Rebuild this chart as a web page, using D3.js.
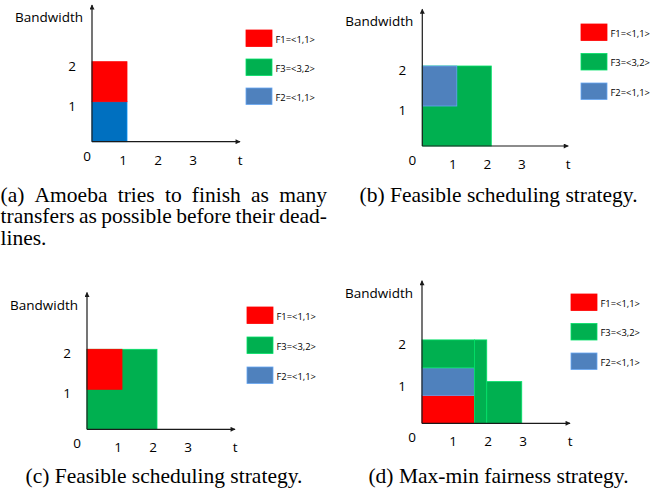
<!DOCTYPE html>
<html>
<head>
<meta charset="utf-8">
<script src="https://cdn.jsdelivr.net/npm/d3@7/dist/d3.min.js"></script>
<style>
    body { margin: 0; background: #fff; }
    svg { display: block; }
    .tick-label, .axis-title { font-family: 'Open Sans', sans-serif; font-size: 13.5px; fill: #000; }
    .legend-label { font-family: 'Open Sans', sans-serif; font-size: 9.4px; fill: #000; }
    .caption { font-family: 'Liberation Serif', 'Times New Roman', serif; font-size: 21.5px; fill: #000; }
    .axis-line { stroke: #1a1a1a; stroke-width: 1.2px; fill: none; }
</style>
</head>
<body>
<div id="chart"></div>
<script>
// flows, in legend order
const flowNames = ["F1", "F3", "F2"];
const flowLabels = ["F1=<1,1>", "F3=<3,2>", "F2=<1,1>"];
const flowColors = ["#FF0000", "#00B050", "#4F81BD"];

const timeTicks = [0, 1, 2, 3];
const bandwidthTicks = [1, 2];

// [flow, t start, t end, bandwidth bottom, bandwidth top]
const scheduleA = [["F2", 0, 1, 0, 1], ["F1", 0, 1, 1, 2]];
const scheduleB = [["F3", 0, 2, 0, 2], ["F2", 0, 1, 1, 2]];
const scheduleC = [["F3", 0, 2, 0, 2], ["F1", 0, 1, 1, 2]];
const scheduleD = [["F1", 0, 1.5, 0, 0.67], ["F2", 0, 1.5, 0.67, 1.33], ["F3", 0, 1.5, 1.33, 2],
                   ["F3", 1.5, 1.85, 0, 2], ["F3", 1.85, 2.85, 0, 1]];

const captionA = ["(a) Amoeba tries to finish as many", "transfers as possible before their dead-", "lines."];
const captionB = ["(b) Feasible scheduling strategy."];
const captionC = ["(c) Feasible scheduling strategy."];
const captionD = ["(d) Max-min fairness strategy."];

let width = 670, height = 494;

let svg = d3.select("#chart").append("svg")
    .attr("width", width)
    .attr("height", height);

svg.append("defs").append("marker")
    .attr("id", "arrow")
    .attr("viewBox", "0 0 10 10")
    .attr("refX", 9)
    .attr("refY", 5)
    .attr("markerUnits", "userSpaceOnUse")
    .attr("markerWidth", 6)
    .attr("markerHeight", 5)
    .attr("orient", "auto")
    .append("path")
    .attr("d", "M0,0L10,5L0,10z")
    .attr("fill", "#1a1a1a");

let color = d3.scaleOrdinal().domain(flowNames).range(flowColors);

// layout of each panel: axis corner, units, legend box, caption
let panels = [
    {id: "a", schedule: scheduleA, caption: captionA, ox: 92, oy: 141.7, ux: 35, uy: 40, zeroDx: -5,
        legendX: 246, legendY: 30, legendStep: 29, capLeft: 0.5, capRight: 327, capY: 201.5},
    {id: "b", schedule: scheduleB, caption: captionB, ox: 422.3, oy: 146, ux: 34.5, uy: 40, zeroDx: -10,
        legendX: 581, legendY: 24, legendStep: 29.5, capCenter: 498.5, capY: 201.5},
    {id: "c", schedule: scheduleC, caption: captionC, ox: 87, oy: 429.3, ux: 35, uy: 40, zeroDx: -10,
        legendX: 247, legendY: 307, legendStep: 30, capCenter: 164, capY: 483},
    {id: "d", schedule: scheduleD, caption: captionD, ox: 422, oy: 423.3, ux: 35, uy: 41.7, zeroDx: -10,
        legendX: 571, legendY: 294, legendStep: 29.5, capCenter: 498.5, capY: 483}
];

let tMax = 4.23, bMax = 3.42;

// panel (a) draws F2 in a darker blue
function fillFor(panel, flow) {
    if (panel.id === "a" && flow === "F2") return "#0070C0";
    return color(flow);
}

function edgeFor(fill) {
    return d3.color(fill).brighter(0.7).formatHex();
}

panels.forEach(function(p) {
    let x = d3.scaleLinear().domain([0, tMax]).range([p.ox, p.ox + tMax * p.ux]);
    let y = d3.scaleLinear().domain([0, bMax]).range([p.oy, p.oy - bMax * p.uy]);

    let g = svg.append("g").attr("class", "panel-" + p.id);

    g.selectAll("rect.bar")
        .data(p.schedule)
        .enter()
        .append("rect")
        .attr("class", "bar")
        .attr("x", function(d) { return x(d[1]); })
        .attr("y", function(d) { return y(d[4]); })
        .attr("width", function(d) { return x(d[2]) - x(d[1]); })
        .attr("height", function(d) { return y(d[3]) - y(d[4]); })
        .style("fill", function(d) { return fillFor(p, d[0]); })
        .style("stroke", function(d) { return edgeFor(fillFor(p, d[0])); })
        .style("stroke-width", "0.8px");

    // axes with arrow heads
    g.append("line")
        .attr("class", "axis-line")
        .attr("x1", x(0)).attr("y1", y(0))
        .attr("x2", x(0)).attr("y2", y(bMax))
        .attr("marker-end", "url(#arrow)");
    g.append("line")
        .attr("class", "axis-line")
        .attr("x1", x(0)).attr("y1", y(0))
        .attr("x2", x(tMax)).attr("y2", y(0))
        .attr("marker-end", "url(#arrow)");

    g.selectAll("text.ttick")
        .data(timeTicks)
        .enter()
        .append("text")
        .attr("class", "tick-label ttick")
        .attr("text-anchor", "middle")
        .attr("dominant-baseline", "central")
        .attr("x", function(d) { return d === 0 ? x(0) + p.zeroDx : x(d) - 4; })
        .attr("y", function(d) { return y(0) + (d === 0 ? 14 : 18); })
        .text(function(d) { return d; });

    g.append("text")
        .attr("class", "tick-label")
        .attr("text-anchor", "middle")
        .attr("dominant-baseline", "central")
        .attr("x", x(tMax))
        .attr("y", y(0) + 18)
        .text("t");

    g.selectAll("text.btick")
        .data(bandwidthTicks)
        .enter()
        .append("text")
        .attr("class", "tick-label btick")
        .attr("text-anchor", "middle")
        .attr("dominant-baseline", "central")
        .attr("x", x(0) - 20)
        .attr("y", function(d) { return y(d) + 4; })
        .text(function(d) { return d; });

    g.append("text")
        .attr("class", "axis-title")
        .attr("text-anchor", "end")
        .attr("dominant-baseline", "central")
        .attr("x", x(0) - 9)
        .attr("y", y(bMax) + 12)
        .text("Bandwidth");

    // legend
    let legend = g.selectAll("g.legend")
        .data(flowNames)
        .enter()
        .append("g")
        .attr("class", "legend")
        .attr("transform", function(d, i) {
            return "translate(" + p.legendX + "," + (p.legendY + i * p.legendStep) + ")";
        });
    legend.append("rect")
        .attr("width", 26)
        .attr("height", 16.5)
        .style("fill", function(d) { return color(d); })
        .style("stroke", function(d) { return edgeFor(color(d)); })
        .style("stroke-width", "0.8px");
    legend.append("text")
        .attr("class", "legend-label")
        .attr("x", 29.5)
        .attr("y", 9)
        .attr("dominant-baseline", "central")
        .text(function(d, i) { return flowLabels[i]; });

    // caption: justified when it runs over several lines
    p.caption.forEach(function(line, li) {
        let baseY = p.capY + li * 21.8;
        if (p.caption.length === 1) {
            g.append("text")
                .attr("class", "caption")
                .attr("text-anchor", "middle")
                .attr("x", p.capCenter)
                .attr("y", baseY)
                .text(line);
            return;
        }
        let words = line.split(" ");
        let nodes = words.map(function(w) {
            return g.append("text").attr("class", "caption").attr("y", baseY).text(w);
        });
        let widths = nodes.map(function(n) { return n.node().getComputedTextLength(); });
        let total = d3.sum(widths);
        let last = li === p.caption.length - 1;
        let gap = (last || words.length < 2) ? 5.4 : (p.capRight - p.capLeft - total) / (words.length - 1);
        let cx = p.capLeft;
        nodes.forEach(function(n, i) {
            n.attr("x", cx);
            cx += widths[i] + gap;
        });
    });
});
</script>
</body>
</html>
